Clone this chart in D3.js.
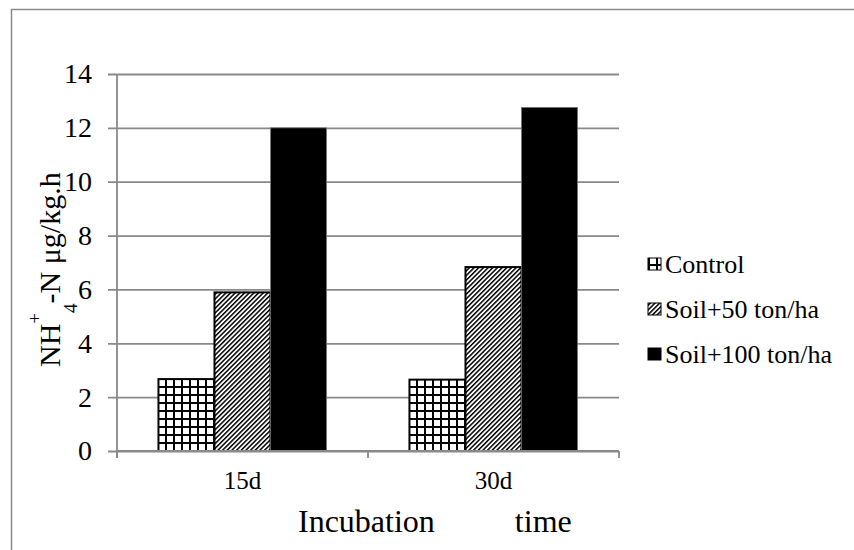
<!DOCTYPE html>
<html>
<head>
<meta charset="utf-8">
<script src="https://cdn.jsdelivr.net/npm/d3@7"></script>
<style>
  body { margin: 0; background: #fff; }
</style>
</head>
<body>
<div id="chart"></div>
<script>
// data
var categories = ["15d", "30d"];
var seriesNames = ["Control", "Soil+50 ton/ha", "Soil+100 ton/ha"];
var control = [2.67, 2.65];
var soil50 = [5.89, 6.83];
var soil100 = [12.0, 12.76];
var yTicks = [0, 2, 4, 6, 8, 10, 12, 14];

var seriesValues = [control, soil50, soil100];
var fills = ["url(#grid)", "url(#hatch)", "#000"];
var serif = "Liberation Serif";

var W = 854, H = 550;
var margin = { top: 74, left: 117, right: 235, bottom: 99 };
var width = W - margin.left - margin.right,
  height = H - margin.top - margin.bottom;

var svg = d3
  .select("#chart")
  .append("svg")
  .attr("width", W)
  .attr("height", H);

// patterns
var defs = svg.append("defs");
var grid = defs
  .append("pattern")
  .attr("id", "grid")
  .attr("patternUnits", "userSpaceOnUse")
  .attr("width", 8)
  .attr("height", 8);
grid.append("rect").attr("width", 8).attr("height", 8).attr("fill", "#fff");
grid.append("rect").attr("x", 0).attr("y", 0).attr("width", 2).attr("height", 8).attr("fill", "#000");
grid.append("rect").attr("x", 0).attr("y", 0).attr("width", 8).attr("height", 2).attr("fill", "#000");

var hatch = defs
  .append("pattern")
  .attr("id", "hatch")
  .attr("patternUnits", "userSpaceOnUse")
  .attr("width", 3.3)
  .attr("height", 10)
  .attr("patternTransform", "rotate(45)");
hatch.append("rect").attr("width", 3.3).attr("height", 10).attr("fill", "#fff");
hatch.append("rect").attr("x", 0).attr("width", 1.5).attr("height", 10).attr("fill", "#000");

// outer border
svg
  .append("rect")
  .attr("x", 11.5)
  .attr("y", 9.5)
  .attr("width", 900)
  .attr("height", 600)
  .attr("fill", "none")
  .attr("stroke", "#898989")
  .attr("stroke-width", 1.5);

var g = svg
  .append("g")
  .attr("transform", "translate(" + margin.left + "," + margin.top + ")");

var x0 = d3.scaleBand().domain(categories).range([0, width]).padding(0);
var x1 = d3
  .scaleBand()
  .domain(seriesNames)
  .range([0, x0.bandwidth()])
  .paddingInner(0)
  .paddingOuter(0.74);
var y = d3.scaleLinear().domain([0, 14]).range([height, 0]);

// gridlines + y axis
var yAxis = d3.axisLeft(y).tickValues(yTicks).tickSize(-width).tickPadding(25).tickFormat(d3.format("d"));
var yg = g.append("g").attr("class", "y axis").call(yAxis);
yg.select(".domain").remove();
yg.selectAll(".tick line")
  .attr("x1", -9)
  .attr("stroke", "#898989")
  .attr("stroke-width", 1.8);
yg.selectAll(".tick text")
  .attr("font-family", serif)
  .attr("font-size", 28)
  .attr("fill", "#000");

g.append("line")
  .attr("x1", 0)
  .attr("x2", 0)
  .attr("y1", 0)
  .attr("y2", height + 7)
  .attr("stroke", "#898989")
  .attr("stroke-width", 1.8);

// bars
var groups = g
  .selectAll(".group")
  .data(categories)
  .enter()
  .append("g")
  .attr("class", "group")
  .attr("transform", function (d) {
    return "translate(" + x0(d) + ",0)";
  });

groups
  .selectAll("rect")
  .data(function (d, i) {
    return seriesNames.map(function (s, j) {
      return { series: s, idx: j, value: seriesValues[j][i] };
    });
  })
  .enter()
  .append("rect")
  .attr("x", function (d) {
    return x1(d.series);
  })
  .attr("y", function (d) {
    return y(d.value);
  })
  .attr("width", x1.bandwidth())
  .attr("height", function (d) {
    return height - y(d.value);
  })
  .attr("fill", function (d) {
    return fills[d.idx];
  })
  .attr("stroke", function (d) {
    return d.idx == 2 ? "#777" : "#000";
  })
  .attr("stroke-width", function (d) {
    return d.idx == 2 ? 0.8 : 2;
  });

// x axis
var xAxis = d3.axisBottom(x0).tickSize(0).tickPadding(20);
var xg = g
  .append("g")
  .attr("class", "x axis")
  .attr("transform", "translate(0," + height + ")")
  .call(xAxis);
xg.select(".domain")
  .attr("stroke", "#898989")
  .attr("stroke-width", 1.8)
  .attr("d", "M0,0H" + width);
xg.selectAll(".tick text")
  .attr("font-family", serif)
  .attr("font-size", 25)
  .attr("fill", "#000");
var xEdges = [0].concat(
  categories.map(function (c) {
    return x0(c) + x0.bandwidth();
  })
);
xg.selectAll(".edge")
  .data(xEdges)
  .enter()
  .append("line")
  .attr("class", "edge")
  .attr("x1", function (d) { return d; })
  .attr("x2", function (d) { return d; })
  .attr("y1", 0)
  .attr("y2", 7)
  .attr("stroke", "#898989")
  .attr("stroke-width", 1.8);

// x title
svg
  .append("text")
  .attr("x", 298)
  .attr("y", 532)
  .attr("font-family", serif)
  .attr("font-size", 32)
  .style("white-space", "pre")
  .text("Incubation          time");

// y title
var yt = svg
  .append("text")
  .attr("transform", "translate(60,367) rotate(-90)")
  .attr("font-family", serif)
  .attr("font-size", 30);
yt.append("tspan").text("NH");
yt.append("tspan").attr("dy", -19).attr("font-size", 19).text("+");
yt.append("tspan").attr("dy", 36).attr("font-size", 19).text("4");
yt.append("tspan").attr("dy", -17).text("-N μg/kg.h");

// legend
var legend = svg
  .selectAll(".legend")
  .data(seriesNames)
  .enter()
  .append("g")
  .attr("class", "legend")
  .attr("transform", function (d, i) {
    return "translate(648," + (264 + i * 45) + ")";
  });
legend
  .append("rect")
  .attr("x", 0)
  .attr("y", -6)
  .attr("width", 13)
  .attr("height", 12)
  .attr("fill", function (d, i) {
    return fills[i];
  })
  .attr("stroke", "#000")
  .attr("stroke-width", 1);
legend
  .append("text")
  .attr("x", 17)
  .attr("y", 0)
  .attr("dy", "0.35em")
  .attr("font-family", serif)
  .attr("font-size", 26)
  .text(function (d) {
    return d;
  });
</script>
</body>
</html>
